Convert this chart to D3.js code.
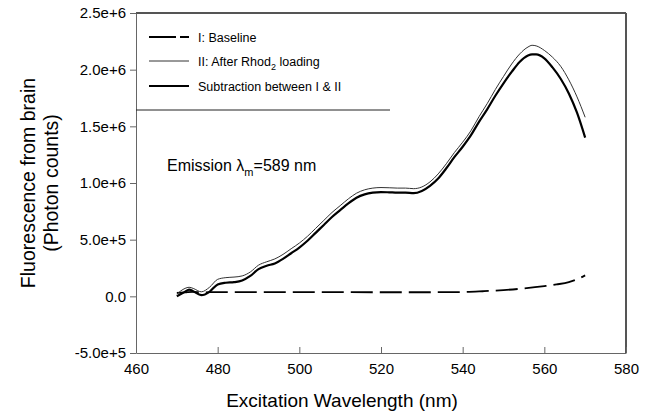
<!DOCTYPE html>
<meta charset="utf-8">
<head>
<style>
  body { margin: 0; background: #fff; }
  text { font-family: "Liberation Sans", Arial, sans-serif; fill: #000; }
</style>
</head>
<script src="https://d3js.org/d3.v7.min.js"></script>
<body>
<div id="chart"></div>
<script>
// wavelengths (nm) shared by curve II and the subtraction curve
var wavelength = [470, 472, 473, 474, 476, 478, 480, 482, 484, 486, 488, 490, 492, 494, 496, 498,
  500, 502, 504, 506, 508, 510, 512, 514, 516, 518, 520, 522, 524, 526, 528, 530, 532, 534, 536,
  538, 540, 542, 544, 546, 548, 550, 552, 554, 556, 557, 558, 560, 562, 564, 566, 568, 570];

// II: After Rhod2 loading (photon counts)
var afterRhod = [20e3, 70e3, 80e3, 70e3, 40e3, 80e3, 150e3, 165e3, 170e3, 180e3, 215e3, 275e3,
  305e3, 330e3, 370e3, 420e3, 470e3, 530e3, 600e3, 670e3, 740e3, 800e3, 860e3, 910e3, 940e3,
  955e3, 960e3, 958e3, 955e3, 955e3, 950e3, 965e3, 1010e3, 1080e3, 1170e3, 1270e3, 1360e3,
  1460e3, 1585e3, 1700e3, 1825e3, 1940e3, 2050e3, 2140e3, 2200e3, 2215e3, 2210e3, 2170e3,
  2110e3, 2030e3, 1910e3, 1760e3, 1580e3];

// Subtraction between I & II
var subtraction = [0, 40e3, 60e3, 45e3, 10e3, 40e3, 105e3, 120e3, 125e3, 140e3, 180e3, 240e3,
  270e3, 290e3, 330e3, 380e3, 430e3, 490e3, 560e3, 630e3, 700e3, 760e3, 820e3, 870e3, 900e3,
  915e3, 920e3, 918e3, 915e3, 915e3, 910e3, 930e3, 975e3, 1040e3, 1130e3, 1230e3, 1320e3,
  1420e3, 1540e3, 1650e3, 1770e3, 1880e3, 1980e3, 2070e3, 2125e3, 2135e3, 2135e3, 2100e3,
  2020e3, 1920e3, 1790e3, 1620e3, 1400e3];

// I: Baseline
var baseWl  = [470, 472, 474, 476, 480, 490, 500, 510, 520, 530, 540, 545, 550, 555, 560, 563, 566, 568, 570];
var baseVal = [30e3, 35e3, 40e3, 35e3, 38e3, 38e3, 38e3, 37e3, 36e3, 36e3, 38e3, 45e3, 55e3, 70e3, 90e3, 105e3, 125e3, 150e3, 185e3];

var xTicks = [460, 480, 500, 520, 540, 560, 580];
var yTicks = [-5e5, 0, 5e5, 1e6, 1.5e6, 2e6, 2.5e6];
var yTickLabels = ["-5.0e+5", "0.0", "5.0e+5", "1.0e+6", "1.5e+6", "2.0e+6", "2.5e+6"];

var legendNames = ["I: Baseline", "II: After Rhod", "Subtraction between I & II"];

var W = 654, H = 414;
var pL = 136, pR = 626, pT = 13, pB = 353;

var svg = d3.select("#chart").append("svg")
  .attr("width", W).attr("height", H);

var x = d3.scaleLinear().domain([460, 580]).range([pL, pR]);
var y = d3.scaleLinear().domain([-5e5, 2.5e6]).range([pB, pT]);

// frame (top and right)
svg.append("line").attr("x1", pL).attr("x2", pR).attr("y1", pT).attr("y2", pT)
  .attr("stroke", "#555").attr("stroke-width", 2);
svg.append("line").attr("x1", pR).attr("x2", pR).attr("y1", pT).attr("y2", pB)
  .attr("stroke", "#555").attr("stroke-width", 2);

// x axis, ticks pointing inward
var xAxis = svg.append("g")
  .attr("transform", "translate(0," + pB + ")")
  .call(d3.axisBottom(x).tickValues(xTicks).tickSizeInner(-6).tickSizeOuter(0).tickPadding(10));
xAxis.select(".domain").attr("stroke", "#666");
xAxis.selectAll(".tick line").attr("stroke", "#666");
xAxis.selectAll("text").attr("font-size", 15).style("font-family", "Liberation Sans, Arial, sans-serif");

// y axis, ticks outward
var yAxis = svg.append("g")
  .attr("transform", "translate(" + pL + ",0)")
  .call(d3.axisLeft(y).tickValues(yTicks).tickSizeInner(6).tickSizeOuter(0).tickPadding(4)
    .tickFormat(function(d, i) { return yTickLabels[i]; }));
yAxis.select(".domain").attr("stroke", "#666");
yAxis.selectAll(".tick line").attr("stroke", "#666");
yAxis.selectAll("text").attr("font-size", 15).style("font-family", "Liberation Sans, Arial, sans-serif");

// axis titles
svg.append("text")
  .attr("x", 342).attr("y", 407)
  .attr("text-anchor", "middle").attr("font-size", 19)
  .text("Excitation Wavelength (nm)");

var yt = svg.append("text")
  .attr("transform", "translate(0,183) rotate(-90)")
  .attr("text-anchor", "middle").attr("font-size", 19.5);
yt.append("tspan").attr("x", 0).attr("y", 35).text("Fluorescence from brain");
yt.append("tspan").attr("x", 0).attr("y", 58).text("(Photon counts)");

// curves
var line = d3.line()
  .x(function(d) { return x(d[0]); })
  .y(function(d) { return y(d[1]); })
  .curve(d3.curveMonotoneX);

svg.append("path")
  .datum(d3.zip(baseWl, baseVal))
  .attr("d", line).attr("fill", "none")
  .attr("stroke", "#000").attr("stroke-width", 1.8)
  .attr("stroke-dasharray", "22,7");

svg.append("path")
  .datum(d3.zip(wavelength, afterRhod))
  .attr("d", line).attr("fill", "none")
  .attr("stroke", "#333").attr("stroke-width", 1);

svg.append("path")
  .datum(d3.zip(wavelength, subtraction))
  .attr("d", line).attr("fill", "none")
  .attr("stroke", "#000").attr("stroke-width", 2.2);

// legend box: only its lower edge shows below the frame
svg.append("line")
  .attr("x1", pL).attr("x2", 390).attr("y1", 110).attr("y2", 110)
  .attr("stroke", "#222").attr("stroke-width", 1);

var legY = [37, 61, 86];
var legStyles = [
  {w: 1.8, dash: "27,4,9,4", c: "#000"},
  {w: 1, dash: null, c: "#333"},
  {w: 2, dash: null, c: "#000"}
];
legY.forEach(function(ly, i) {
  svg.append("line")
    .attr("x1", 149).attr("x2", 189).attr("y1", ly).attr("y2", ly)
    .attr("stroke", legStyles[i].c).attr("stroke-width", legStyles[i].w)
    .attr("stroke-dasharray", legStyles[i].dash);
  var t = svg.append("text").attr("x", 198).attr("y", ly + 5).attr("font-size", 12.5);
  t.append("tspan").text(legendNames[i]);
  if (i === 1) {
    t.append("tspan").attr("font-size", 9).attr("dy", 4).text("2");
    t.append("tspan").attr("dy", -4).text(" loading");
  }
});

// annotation
var ann = svg.append("text").attr("x", 167).attr("y", 171).attr("font-size", 16);
ann.append("tspan").text("Emission \u03bb");
ann.append("tspan").attr("font-size", 11).attr("dy", 5).text("m");
ann.append("tspan").attr("dy", -5).text("=589 nm");
</script>
</body>
